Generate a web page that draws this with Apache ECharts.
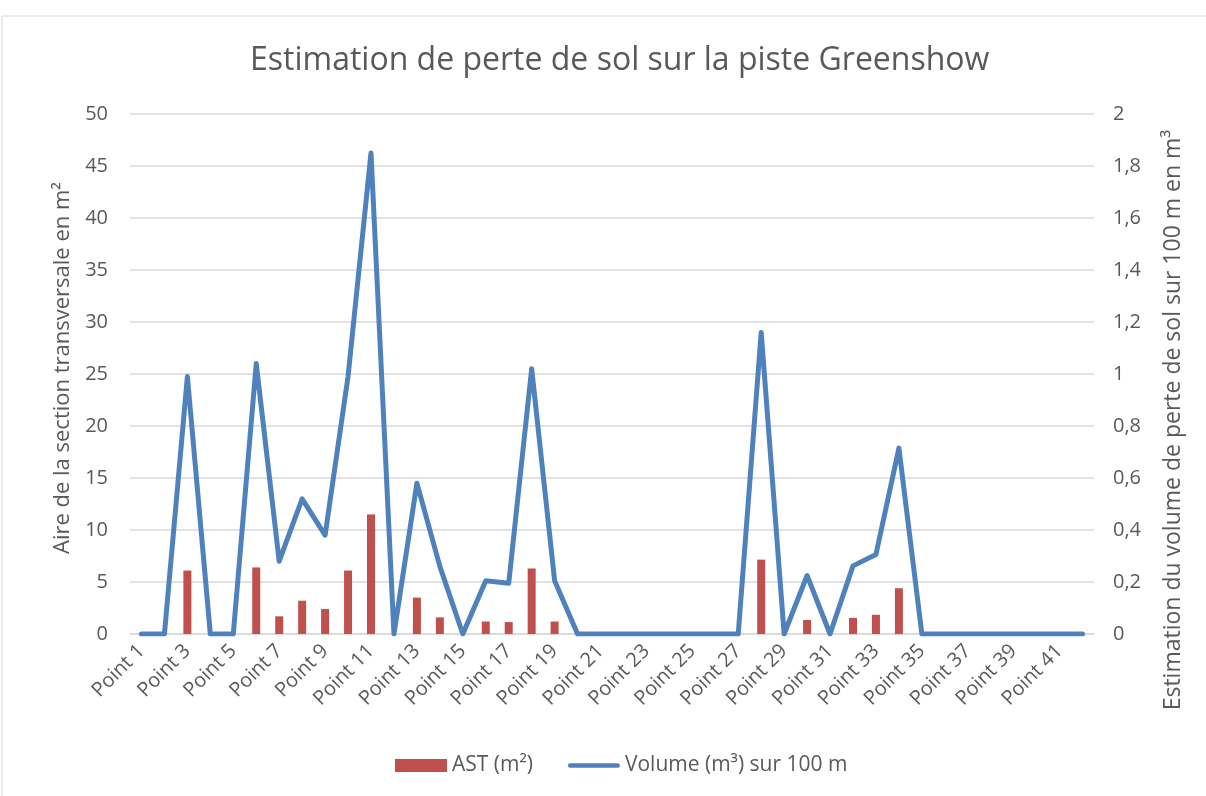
<!DOCTYPE html>
<html>
<head>
<meta charset="utf-8">
<script src="https://cdn.jsdelivr.net/npm/echarts@6/dist/echarts.min.js"></script>
<style>
  html, body { margin: 0; padding: 0; background: #fff; }
  #chart { width: 1206px; height: 796px; }
</style>
</head>
<body>
<div id="chart"></div>
<script>
(function (window) {
    // catégories : Point 1 à Point 42
    var points = [];
    for (var i = 1; i <= 42; i++) {
        points.push('Point ' + i);
    }

    // aire de la section transversale (m²)
    var ast = [0, 0, 6.1, 0, 0, 6.4, 1.7, 3.2, 2.4, 6.1, 11.5, 0, 3.5, 1.6, 0, 1.2, 1.15, 6.3, 1.2, 0,
        0, 0, 0, 0, 0, 0, 0, 7.15, 0, 1.35, 0, 1.55, 1.85, 4.4, 0, 0, 0, 0, 0, 0, 0, 0];

    // volume (m³) sur 100 m
    var volume = [0, 0, 0.99, 0, 0, 1.04, 0.28, 0.52, 0.38, 0.99, 1.85, 0, 0.58, 0.26, 0, 0.205, 0.195, 1.02, 0.205, 0,
        0, 0, 0, 0, 0, 0, 0, 1.16, 0, 0.225, 0, 0.262, 0.306, 0.715, 0, 0, 0, 0, 0, 0, 0, 0];

    var textColor = '#595959';
    var fontFamily = '"Open Sans", "Liberation Sans", sans-serif';

    // 0.2 -> "0,2"
    function commaFormat(v) {
        return String(Math.round(v * 10) / 10).replace('.', ',');
    }

    var chart = echarts.init(document.getElementById('chart'));
    chart.setOption({
        animation: false,
        backgroundColor: '#fff',
        textStyle: { fontFamily: fontFamily },
        graphic: [{
            type: 'rect',
            shape: { x: 2, y: 16, width: 1210, height: 790 },
            style: { fill: null, stroke: '#d9d9d9', lineWidth: 1 }
        }],
        title: {
            text: 'Estimation de perte de sol sur la piste Greenshow',
            left: 245,
            top: 40,
            textStyle: { color: textColor, fontSize: 32, fontWeight: 'normal', fontFamily: fontFamily }
        },
        legend: {
            bottom: 15,
            left: 390,
            itemWidth: 52,
            itemHeight: 13,
            itemGap: 35,
            textStyle: { color: textColor, fontSize: 21, fontFamily: fontFamily },
            data: [
                { name: 'AST (m²)', icon: 'rect' },
                { name: 'Volume (m³) sur 100 m', icon: 'path://M2,0 L54,0 A2.5,2.5 0 0 1 54,5 L2,5 A2.5,2.5 0 0 1 2,0 Z' }
            ]
        },
        grid: {
            left: 130,
            right: 112,
            top: 114,
            bottom: 162
        },
        xAxis: {
            type: 'category',
            data: points,
            boundaryGap: true,
            axisLine: { show: true, lineStyle: { color: '#d9d9d9', width: 1.5 } },
            axisTick: { show: false },
            axisLabel: {
                interval: 1,
                rotate: 45,
                margin: 14,
                color: textColor,
                fontSize: 20,
                fontFamily: fontFamily
            }
        },
        yAxis: [{
            type: 'value',
            min: 0,
            max: 50,
            interval: 5,
            name: 'Aire de la section transversale en m²',
            nameLocation: 'middle',
            nameGap: 56,
            nameTextStyle: { color: textColor, fontSize: 22, fontFamily: fontFamily, padding: [0, 0, 0, 12] },
            axisLine: { show: false },
            axisTick: { show: false },
            axisLabel: { color: textColor, fontSize: 20, margin: 22, fontFamily: fontFamily },
            splitLine: { lineStyle: { color: '#d9d9d9', width: 1.5 } }
        }, {
            type: 'value',
            min: 0,
            max: 2,
            interval: 0.2,
            name: 'Estimation du volume de perte de sol sur 100 m en m³',
            nameLocation: 'middle',
            nameGap: 68,
            nameRotate: 90,
            nameTextStyle: { color: textColor, fontSize: 23, fontFamily: fontFamily, padding: [0, 92, 0, 0] },
            axisLine: { show: false },
            axisTick: { show: false },
            axisLabel: {
                color: textColor,
                fontSize: 20,
                margin: 19,
                fontFamily: fontFamily,
                formatter: commaFormat
            },
            splitLine: { show: false }
        }],
        series: [{
            name: 'AST (m²)',
            type: 'bar',
            yAxisIndex: 0,
            data: ast,
            barWidth: 8,
            itemStyle: { color: '#C0504D' }
        }, {
            name: 'Volume (m³) sur 100 m',
            type: 'line',
            yAxisIndex: 1,
            data: volume,
            symbol: 'none',
            lineStyle: { color: '#4F81BD', width: 5, join: 'round', cap: 'round' },
            itemStyle: { color: '#4F81BD' }
        }]
    });
})(window);
</script>
</body>
</html>
